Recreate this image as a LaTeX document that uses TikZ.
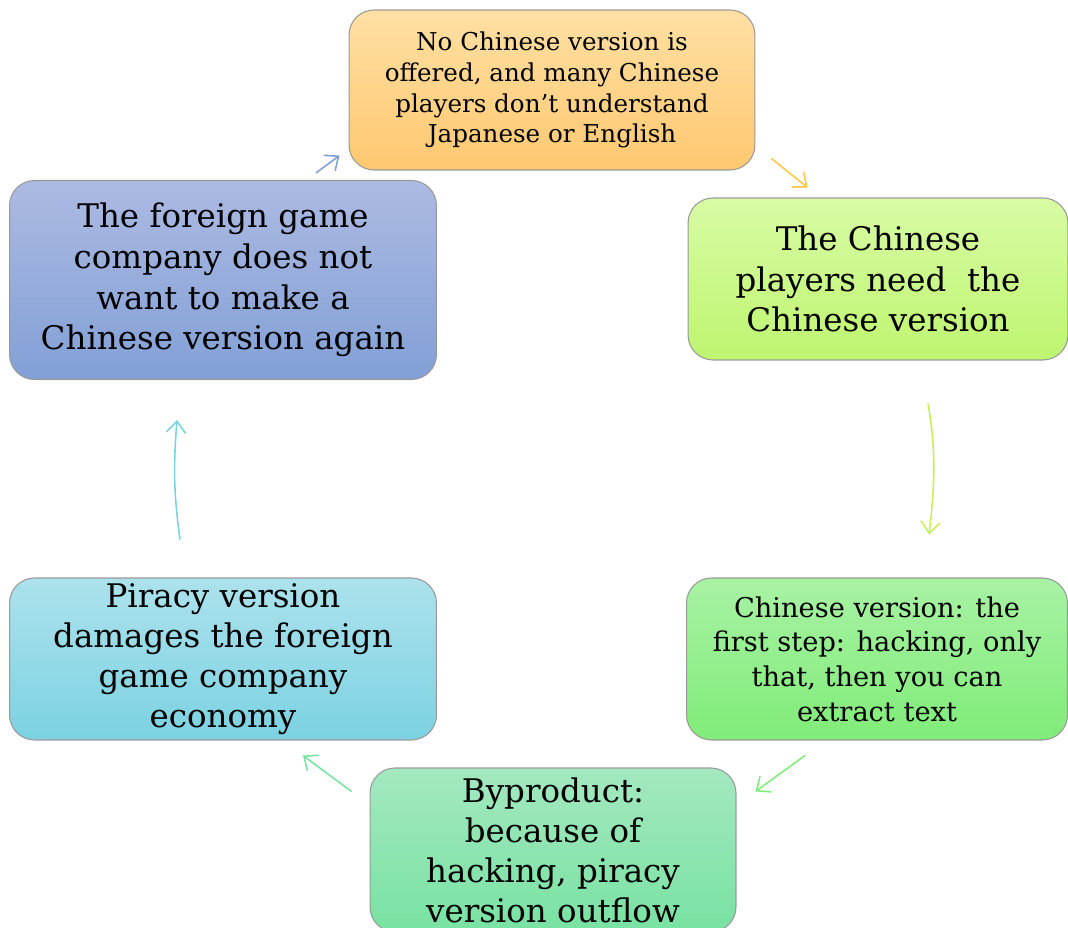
\documentclass[tikz,border=0pt]{standalone}
\usepackage{fontspec}
\setmainfont{DejaVu Serif}
\usetikzlibrary{arrows.meta,calc}
\definecolor{orangetop}{RGB}{255,224,164}
\definecolor{orangebot}{RGB}{255,200,112}
\definecolor{orangearr}{RGB}{255,200,70}
\definecolor{limetop}{RGB}{216,251,164}
\definecolor{limebot}{RGB}{190,245,112}
\definecolor{limearr}{RGB}{196,240,90}
\definecolor{bluetop}{RGB}{172,186,226}
\definecolor{bluebot}{RGB}{130,160,214}
\definecolor{greentop}{RGB}{168,242,164}
\definecolor{greenbot}{RGB}{128,236,120}
\definecolor{tealtop}{RGB}{164,232,192}
\definecolor{tealbot}{RGB}{120,226,162}
\definecolor{cyantop}{RGB}{172,226,236}
\definecolor{cyanbot}{RGB}{124,210,226}

\begin{document}
\begin{tikzpicture}[
    x=0.02cm, y=-0.02cm,
    box/.style={draw=gray!80, line width=0.6pt, rounded corners=0.5cm, align=center, inner sep=0pt},
    arr/.style={-{Straight Barb[length=6.5pt, width=11pt]}, line width=0.9pt}
]
    \useasboundingbox (0,0) rectangle (1068,928);

    % Boxes
    \node[box, top color=orangetop, bottom color=orangebot, minimum width=8.12cm, minimum height=3.2cm,
          font=\fontsize{14}{17.6}\selectfont] (offer) at (552,90)
        {No Chinese version is\\offered, and many Chinese\\players don{\char"0027}t understand\\Japanese or English};
    \node[box, top color=limetop, bottom color=limebot, minimum width=7.6cm, minimum height=3.24cm,
          font=\fontsize{18.5}{23}\selectfont] (need) at (878,279)
        {The Chinese\\players need\ \ the\\Chinese version};
    \node[box, top color=greentop, bottom color=greenbot, minimum width=7.62cm, minimum height=3.24cm,
          font=\fontsize{15.5}{19.7}\selectfont] (hack) at (877,659)
        {Chinese version: the\\first step: hacking, only\\that, then you can\\extract text};
    \node[box, top color=tealtop, bottom color=tealbot, minimum width=7.32cm, minimum height=3.28cm,
          font=\fontsize{18.5}{22.8}\selectfont] (byprod) at (553,850)
        {Byproduct:\\because of\\hacking, piracy\\version outflow};
    \node[box, top color=cyantop, bottom color=cyanbot, minimum width=8.54cm, minimum height=3.24cm,
          font=\fontsize{18.5}{22.8}\selectfont] (piracy) at (223,659)
        {Piracy version\\damages the foreign\\game company\\economy};
    \node[box, top color=bluetop, bottom color=bluebot, minimum width=8.54cm, minimum height=3.98cm,
          font=\fontsize{18.5}{23.2}\selectfont] (company) at (223,280)
        {The foreign game\\company does not\\want to make a\\Chinese version again};

    % Arrows
    \draw[arr, bluebot] ($(company.north)+(93,-7)$) -- ($(offer.south west)+(-9,-15)$);
    \draw[arr, orangearr] ($(offer.south east)+(16,-12)$) -- ($(need.north west)+(120,-10)$);
    \draw[arr, limearr] ($(need.south)+(50,43)$) .. controls +(8,45) and +(6,-50) .. ($(hack.north)+(52,-43)$);
    \draw[arr, greenbot] ($(hack.south)+(-72,15)$) -- ($(byprod.north east)+(19,24)$);
    \draw[arr, tealbot] ($(byprod.north west)+(-18,24)$) -- ($(piracy.south)+(80,15)$);
    \draw[arr, cyanbot] ($(piracy.north)+(-43,-38)$) .. controls +(-6,-45) and +(-4,50) .. ($(company.south)+(-46,40)$);
\end{tikzpicture}
\end{document}
